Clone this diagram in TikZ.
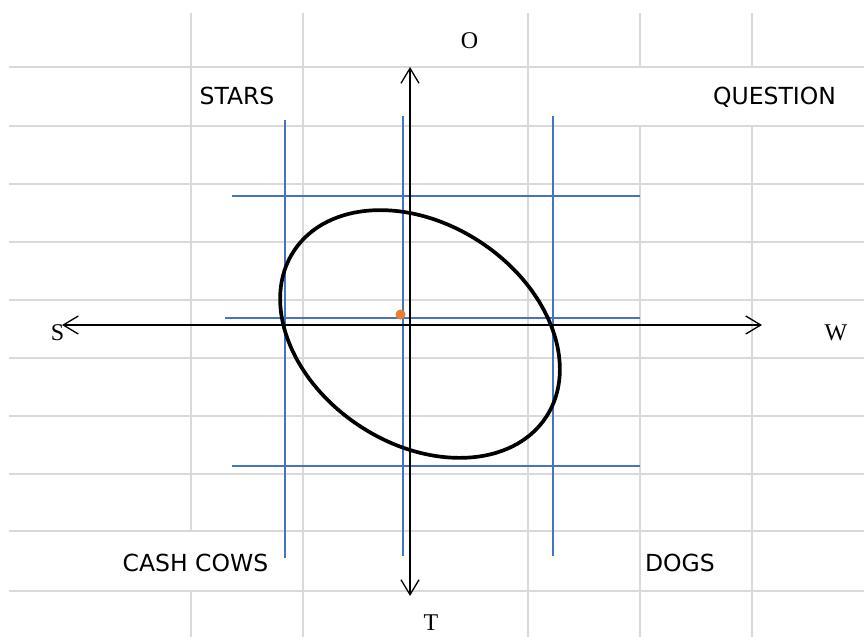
\documentclass[tikz,border=0pt]{standalone}
\usepackage{fontspec}
\setmainfont{Liberation Serif}
\newfontfamily\labfont{DejaVu Sans}
\usetikzlibrary{arrows.meta}
\definecolor{gridgray}{RGB}{217,217,217}
\definecolor{xlblue}{RGB}{68,114,196}
\definecolor{xlorange}{RGB}{237,125,49}
\begin{document}
\begin{tikzpicture}[x=1pt,y=-1pt,
  gridline/.style={draw=gridgray, line width=1.3pt},
  bluebar/.style={draw=xlblue, line width=1.3pt},
  axis/.style={draw=black, line width=1.3pt,
    {Straight Barb[length=15pt,width=18pt]}-{Straight Barb[length=15pt,width=18pt]}},
  quad/.style={font=\labfont\fontsize{23.5}{28}\selectfont, text=black, inner sep=0pt, anchor=base},
  pole/.style={font=\fontsize{24}{28}\selectfont, inner sep=0pt, anchor=base},
  ring/.style={draw=black, line width=3.7pt}]
\fill[white] (0,0) rectangle (864,637);
\useasboundingbox (0,0) rectangle (864,637);
% spreadsheet grid
\foreach \yy in {67,126,184,242,300,358,416,474,531,591}
  \draw[gridline] (9,\yy) -- (864,\yy);
\draw[gridline] (191,13) -- (191,531) (191,591) -- (191,637);
\draw[gridline] (303,13) -- (303,637);
\draw[gridline] (528,13) -- (528,637);
\draw[gridline] (640,13) -- (640,67) (640,126) -- (640,637);
\draw[gridline] (752,13) -- (752,67) (752,126) -- (752,637);
% blue guide lines
\draw[bluebar] (285,120) -- (285,558);
\draw[bluebar] (403,116) -- (403,556);
\draw[bluebar] (553,116) -- (553,556);
\draw[bluebar] (232,196) -- (640,196);
\draw[bluebar] (225,318) -- (640,318);
\draw[bluebar] (232,466) -- (640,466);
% ellipse
\draw[ring, rotate around={-33.4:(420,334)}] (420,334) ellipse [x radius=151pt, y radius=110pt];
% orange dot
\fill[xlorange] (400.5,314.5) circle[radius=5pt];
% axes
\coordinate (westEnd) at (62,325);
\coordinate (eastEnd) at (762,325);
\coordinate (northEnd) at (410,67);
\coordinate (southEnd) at (410,596);
\draw[axis] (westEnd) -- (eastEnd);
\draw[axis] (southEnd) -- (northEnd);
% labels
\node[quad] (stars) at (237,104) {STARS};
\node[quad] (question) at (774.5,104) {QUESTION};
\node[quad] (cash) at (195.5,571) {CASH COWS};
\node[quad] (dogs) at (680,571) {DOGS};
\node[pole] (olab) at (469.5,48) {O};
\node[pole] (slab) at (57.5,340) {S};
\node[pole] (wlab) at (836,340) {W};
\node[pole] (tlab) at (431,630) {T};
\end{tikzpicture}
\end{document}
